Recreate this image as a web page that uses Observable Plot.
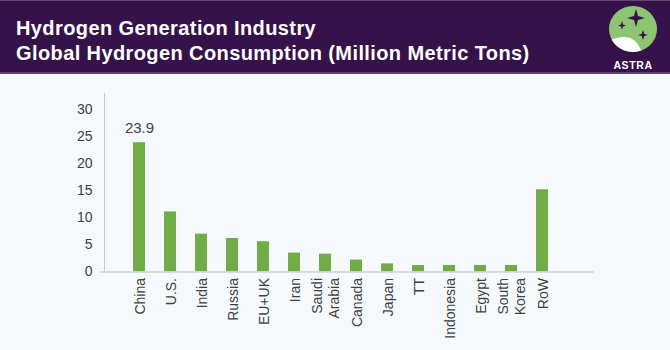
<!DOCTYPE html>
<html>
<head>
<meta charset="utf-8">
<script src="https://cdn.jsdelivr.net/npm/d3@7"></script>
<script src="https://cdn.jsdelivr.net/npm/@observablehq/plot@0.6"></script>
<style>
  html, body { margin: 0; padding: 0; background: #f5f9fc; }
  #page { width: 670px; height: 350px; position: relative; overflow: hidden; background: #f5f9fc; }
  #header { position: absolute; left: 0; top: 0; width: 670px; height: 74px; background: #36124a;
            border-top: 1px solid #5e4470; border-bottom: 2px solid #5e4470; box-sizing: border-box; }
  .title { position: absolute; left: 16px; color: #fff; font-family: "Liberation Sans", Arial, sans-serif;
           font-weight: bold; font-size: 20px; line-height: 24px; letter-spacing: 0.4px; white-space: nowrap; }
  #logo { position: absolute; left: 600px; top: 0px; }
  #chart { position: absolute; left: 0; top: 76px; }
</style>
</head>
<body>
<div id="page">
  <div id="header">
    <div class="title" style="top:15px">Hydrogen Generation Industry</div>
    <div class="title" style="top:40px">Global Hydrogen Consumption (Million Metric Tons)</div>
    <svg id="logo" width="66" height="74" viewBox="0 0 66 74">
      <defs><clipPath id="cc"><ellipse cx="33" cy="28" rx="24" ry="23"/></clipPath></defs>
      <ellipse cx="33" cy="28" rx="24" ry="23" fill="#8dc572"/>
      <g clip-path="url(#cc)">
        <path d="M9,40 Q20,34 30,37 Q38,40 42,52 L9,52 Z" fill="#ffffff"/>
      </g>
      <path d="M36,8 L38,15 L45,17 L38,19 L36,26 L34,19 L27,17 L34,15 Z" fill="#36124a"/>
      <path d="M22,20 L23,23.5 L26,24.5 L23,25.5 L22,29 L21,25.5 L18,24.5 L21,23.5 Z" fill="#36124a"/>
      <path d="M43,29 L44.3,33 L48,34 L44.3,35 L43,39 L41.7,35 L38,34 L41.7,33 Z" fill="#36124a"/>
      <text x="33" y="68" text-anchor="middle" fill="#fff" font-family="Liberation Sans, sans-serif" font-weight="bold" font-size="10.5" letter-spacing="0.6">ASTRA</text>
    </svg>
  </div>
  <div id="chart"></div>
</div>
<script>
const categories = ["China", "U.S.", "India", "Russia", "EU+UK", "Iran", "Saudi\nArabia", "Canada", "Japan", "TT", "Indonesia", "Egypt", "South\nKorea", "RoW"];
const values = [23.9, 11.1, 7.0, 6.2, 5.6, 3.5, 3.3, 2.2, 1.5, 1.2, 1.2, 1.2, 1.2, 15.2];
const labeledCategories = ["China"];
const yTicks = [0, 5, 10, 15, 20, 25, 30];

const data = categories.map((c, i) => ({category: c, value: values[i]}));
const labelData = data.filter(d => labeledCategories.includes(d.category));

const chart = Plot.plot({
  width: 670,
  height: 274,
  marginLeft: 104,
  marginRight: 76,
  marginTop: 17,
  marginBottom: 78.5,
  style: {background: "transparent", fontFamily: "Liberation Sans, Arial, sans-serif", fontSize: "14px", color: "#404040"},
  x: {domain: categories, range: [118, 563], paddingInner: 0.62, paddingOuter: 0.31, label: null},
  y: {domain: [0, 33], label: null},
  marks: [
    Plot.frame({anchor: "left", stroke: "#c8c8c8"}),
    Plot.barY(data, {x: "category", y: "value", fill: "#70ad47"}),
    Plot.ruleY([0], {stroke: "#d0d0d0", strokeWidth: 1.3, insetLeft: -4}),
    Plot.axisY({ticks: yTicks, tickSize: 0, tickPadding: 12, fill: "#404040", label: null, fontSize: 14}),
    Plot.axisX({tickSize: 0, tickRotate: -90, tickPadding: 6, fill: "#404040", label: null, fontSize: 14, lineHeight: 1.2}),
    Plot.text(labelData, {x: "category", y: "value", text: d => d.value.toFixed(1), dy: -15, fill: "#404040", fontSize: 15})
  ]
});
document.getElementById("chart").appendChild(chart);
</script>
</body>
</html>
